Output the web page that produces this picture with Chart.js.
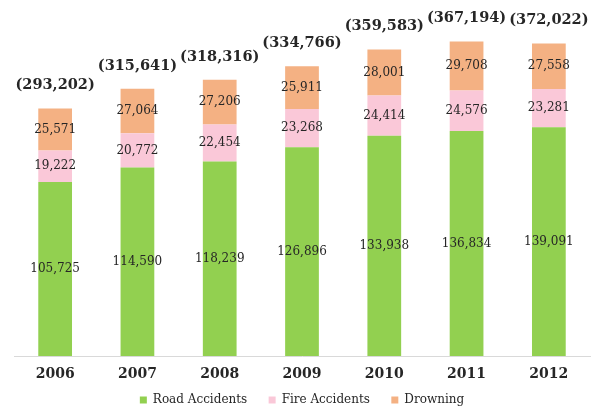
<!DOCTYPE html>
<html>
<head>
<meta charset="utf-8">
<script src="https://cdn.jsdelivr.net/npm/chart.js@4/dist/chart.umd.min.js"></script>
<style>
html,body{margin:0;padding:0;background:#fff;}
#wrap{width:595px;height:408px;position:relative;}
</style>
</head>
<body>
<div id="wrap"><canvas id="c" width="595" height="408"></canvas></div>
<script>
const years = ['2006','2007','2008','2009','2010','2011','2012'];
const roadAccidents = [105725,114590,118239,126896,133938,136834,139091];
const fireAccidents = [19222,20772,22454,23268,24414,24576,23281];
const drowning = [25571,27064,27206,25911,28001,29708,27558];
const totals = ['(293,202)','(315,641)','(318,316)','(334,766)','(359,583)','(367,194)','(372,022)'];

const FONT = "'DejaVu Serif', Georgia, serif";
const TXT = '#262626';

const labelPlugin = {
  id: 'labels',
  afterDatasetsDraw(chart) {
    const ctx = chart.ctx;
    ctx.save();
    ctx.fillStyle = TXT;
    ctx.textAlign = 'center';
    ctx.textBaseline = 'middle';
    ctx.font = '12px ' + FONT;
    chart.data.datasets.forEach((ds, i) => {
      const meta = chart.getDatasetMeta(i);
      meta.data.forEach((el, j) => {
        const v = ds.data[j];
        ctx.fillText(v.toLocaleString('en-US'), el.x, (el.y + el.base) / 2);
      });
    });
    const last = chart.getDatasetMeta(chart.data.datasets.length - 1);
    ctx.font = 'bold 14.5px ' + FONT;
    last.data.forEach((el, j) => {
      ctx.fillText(totals[j], el.x, el.y - 23);
    });
    ctx.restore();
  }
};

new Chart(document.getElementById('c'), {
  type: 'bar',
  data: {
    labels: years,
    datasets: [
      {label: 'Road Accidents', data: roadAccidents, backgroundColor: '#92D050'},
      {label: 'Fire Accidents', data: fireAccidents, backgroundColor: '#FAC8D8'},
      {label: 'Drowning', data: drowning, backgroundColor: '#F4B183'}
    ]
  },
  options: {
    responsive: false,
    animation: false,
    devicePixelRatio: 1,
    layout: {padding: {top: 27, left: 14, right: 5, bottom: -8}},
    datasets: {bar: {categoryPercentage: 1, barPercentage: 0.41, borderWidth: 0}},
    scales: {
      x: {
        stacked: true,
        grid: {display: false},
        border: {display: true, color: '#d9d9d9', width: 1},
        ticks: {color: TXT, font: {family: FONT, size: 14, weight: 'bold', lineHeight: 1}, padding: 3}
      },
      y: {
        stacked: true,
        display: false,
        min: 0,
        max: 200000
      }
    },
    plugins: {
      legend: {
        position: 'bottom',
        labels: {
          color: TXT,
          font: {family: FONT, size: 12},
          boxWidth: 7,
          boxHeight: 7,
          padding: 10,
          generateLabels(chart) {
            const items = Chart.defaults.plugins.legend.labels.generateLabels(chart);
            items.forEach((it, i) => { if (i < items.length - 1) it.text = it.text + '   '; });
            return items;
          }
        }
      },
      tooltip: {enabled: false}
    }
  },
  plugins: [labelPlugin]
});
</script>
</body>
</html>
